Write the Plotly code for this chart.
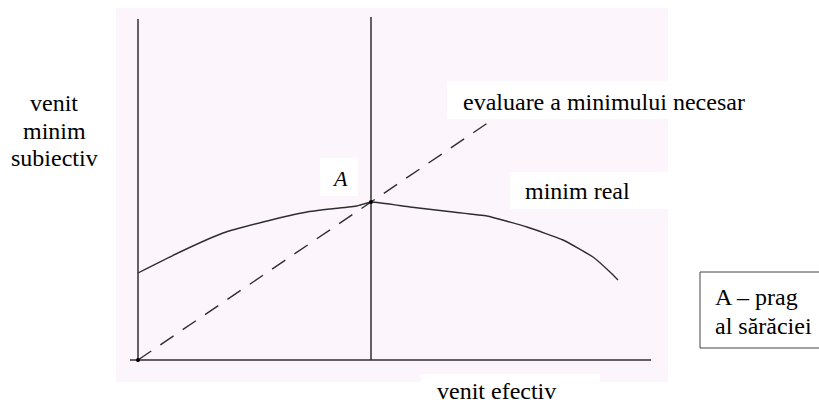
import plotly.graph_objects as go

# curve "minim real" (venit efectiv -> venit minim subiectiv)
curve_x = [0, 42, 85, 125, 169, 192, 219, 233, 272, 315, 349, 389, 425, 455, 472, 480]
curve_y = [87, 108, 127, 138, 148, 151, 154, 158, 153, 148, 144, 133, 120, 103, 88, 80]

# dashed line "evaluare a minimului necesar"
eval_x = [0, 233, 354]
eval_y = [0, 158, 240]

# threshold A
prag_x = [0, 233]
prag_y = [0, 158]

# axes
axis_top = 341
prag_top = 343
axis_x_end = 513

serif = "Times New Roman, Liberation Serif, DejaVu Serif, serif"
ink = "#2e2e2e"

fig = go.Figure()

# axes drawn as plain lines
fig.add_trace(go.Scatter(x=[0, 0], y=[-2, axis_top], mode="lines",
                         line=dict(color=ink, width=1.5), hoverinfo="skip"))
fig.add_trace(go.Scatter(x=[-8, axis_x_end], y=[0, 0], mode="lines",
                         line=dict(color=ink, width=1.5), hoverinfo="skip"))
fig.add_trace(go.Scatter(x=[prag_x[1], prag_x[1]], y=[0, prag_top], mode="lines",
                         line=dict(color=ink, width=1.5), hoverinfo="skip"))

fig.add_trace(go.Scatter(x=eval_x, y=eval_y, mode="lines",
                         line=dict(color=ink, width=1.4, dash="16px,11px"), hoverinfo="skip"))
fig.add_trace(go.Scatter(x=curve_x, y=curve_y, mode="lines",
                         line=dict(color=ink, width=1.4, shape="spline", smoothing=0.4),
                         hoverinfo="skip"))
fig.add_trace(go.Scatter(x=prag_x, y=prag_y, mode="markers",
                         marker=dict(color="black", size=4), hoverinfo="skip"))

shapes = [
    # pink drawing area
    dict(type="rect", x0=-22, x1=530, y0=-22, y1=352, fillcolor="#fdf5fc",
         line=dict(width=0), layer="below"),
    # white label patches
    dict(type="rect", x0=182, x1=220, y0=164, y1=202, fillcolor="white",
         line=dict(width=0), layer="below"),
    dict(type="rect", x0=309, x1=760, y0=241, y1=279, fillcolor="white",
         line=dict(width=0), layer="below"),
    dict(type="rect", x0=372, x1=560, y0=151, y1=188, fillcolor="white",
         line=dict(width=0), layer="below"),
    dict(type="rect", x0=283, x1=462, y0=-50, y1=-14, fillcolor="white",
         line=dict(width=0), layer="below"),
    # legend box for A
    dict(type="rect", x0=562, x1=700, y0=12, y1=88, fillcolor="white",
         line=dict(color="#444444", width=1), layer="below"),
]

def label(text, x, y, xanchor="left", size=24, style="normal"):
    return dict(text=text, x=x, y=y, xref="x", yref="y", xanchor=xanchor,
                yanchor="middle", showarrow=False,
                font=dict(family=serif, size=size, color="black", style=style))

annotations = [
    label("venit", -84, 257, "center"),
    label("minim", -84, 229, "center"),
    label("subiectiv", -84, 202, "center"),
    label("evaluare a minimului necesar", 323, 258),
    label("A", 202, 182, "center", size=22, style="italic"),
    label("minim real", 385, 169),
    label("venit efectiv", 297, -31),
    label("A – prag", 575, 63),
    label("al sărăciei", 575, 34),
]

fig.update_layout(
    width=819, height=404,
    margin=dict(l=0, r=0, t=0, b=0),
    font=dict(family=serif, color="black"),
    paper_bgcolor="white", plot_bgcolor="white",
    showlegend=False,
    shapes=shapes,
    annotations=annotations,
    xaxis=dict(range=[-138, 681], visible=False, fixedrange=True),
    yaxis=dict(range=[-44, 360], visible=False, fixedrange=True),
)

# the page's default body margin would shift the drawing by 8px
fig.write_html("out.html", config={"displayModeBar": False},
               post_script="document.body.style.margin='0';")
